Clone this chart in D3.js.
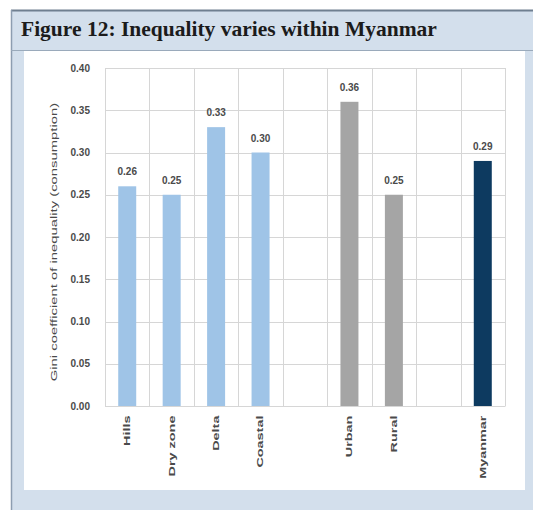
<!DOCTYPE html>
<html><head><meta charset="utf-8">
<script src="https://cdn.jsdelivr.net/npm/d3@7/dist/d3.min.js"></script>
<style>body{margin:0;background:#fff;}svg{display:block;}</style>
</head><body>
<script>
const titleText = "Figure 12: Inequality varies within Myanmar";
const yAxisTitle = "Gini coefficient of inequality (consumption)";
const categories = ["Hills", "Dry zone", "Delta", "Coastal", "", "Urban", "Rural", " ", "Myanmar"];
const values = [0.26, 0.25, 0.33, 0.30, null, 0.36, 0.25, null, 0.29];
const groups = ["region", "region", "region", "region", null, "area", "area", null, "national"];
const yTicks = [0, 0.05, 0.10, 0.15, 0.20, 0.25, 0.30, 0.35, 0.40];
const groupColors = {region: "#9fc4e7", area: "#a5a5a5", national: "#0d3a60"};

const W = 533, H = 510;
const svg = d3.select("body").append("svg").attr("width", W).attr("height", H);

// frame
svg.append("rect").attr("x", 11).attr("y", 10).attr("width", W - 11).attr("height", H - 10).attr("fill", "#d3dfec");
svg.append("line").attr("x1", 11).attr("x2", W).attr("y1", 10.5).attr("y2", 10.5).attr("stroke", "#6f7f90").attr("stroke-width", 2);
svg.append("line").attr("x1", 11.5).attr("x2", 11.5).attr("y1", 10).attr("y2", H).attr("stroke", "#8d9db0").attr("stroke-width", 1.5);
svg.append("line").attr("x1", 11).attr("x2", W).attr("y1", 50.5).attr("y2", 50.5).attr("stroke", "#9aaabb").attr("stroke-width", 1);
svg.append("rect").attr("x", 24).attr("y", 51).attr("width", 501).attr("height", 439).attr("fill", "#ffffff");
svg.append("text").attr("x", 21).attr("y", 36).text(titleText)
  .attr("font-family", "Liberation Serif, Times New Roman, serif").attr("font-weight", "bold")
  .attr("font-size", 21.5).attr("fill", "#1b1b1b");

const x = d3.scaleBand().domain(categories).range([105, 505]).paddingInner(0).paddingOuter(0);
const y = d3.scaleLinear().domain([0, 0.40]).range([406, 68]);

const g = svg.append("g");
g.selectAll(".hg").data(yTicks).join("line")
  .attr("x1", 105).attr("x2", 505)
  .attr("y1", d => Math.round(y(d)) + 0.5).attr("y2", d => Math.round(y(d)) + 0.5)
  .attr("stroke", "#d6d6d6").attr("stroke-width", 1);
const bounds = categories.map(c => x(c)).concat([505]);
g.selectAll(".vg").data(bounds).join("line")
  .attr("x1", d => Math.round(d) + 0.5).attr("x2", d => Math.round(d) + 0.5)
  .attr("y1", 68).attr("y2", 406)
  .attr("stroke", "#d6d6d6").attr("stroke-width", 1);

// y axis
const yAxis = d3.axisLeft(y).tickValues(yTicks).tickFormat(d3.format(".2f")).tickSize(0).tickPadding(15);
const ya = svg.append("g").attr("transform", "translate(105,0)").call(yAxis);
ya.select(".domain").remove();
ya.selectAll("text").attr("font-family", "Liberation Sans, Arial, sans-serif").attr("font-size", 10)
  .attr("font-weight", "bold").attr("fill", "#4a4a4a");

// x axis
const xAxis = d3.axisBottom(x).tickSize(0).tickPadding(0);
const xa = svg.append("g").attr("transform", "translate(0,406)").call(xAxis);
xa.select(".domain").attr("stroke", "#d6d6d6");
xa.selectAll("text").attr("font-family", "Liberation Sans, Arial, sans-serif").attr("font-size", 9)
  .attr("font-weight", "bold").attr("fill", "#4a4a4a")
  .attr("transform", "scale(1,1.6) rotate(-90)").attr("text-anchor", "end").attr("dx", "-6").attr("dy", "0.32em").attr("y", 0);

// bars
const bw = 18;
const data = categories.map((c, i) => ({c, v: values[i], g: groups[i]})).filter(d => d.v !== null);
svg.selectAll(".bar").data(data).join("rect")
  .attr("x", d => x(d.c) + x.bandwidth() / 2 - bw / 2)
  .attr("width", bw)
  .attr("y", d => y(d.v))
  .attr("height", d => y(0) - y(d.v))
  .attr("fill", d => groupColors[d.g]);

svg.selectAll(".lbl").data(data).join("text")
  .attr("x", d => x(d.c) + x.bandwidth() / 2)
  .attr("y", d => y(d.v) - 11)
  .attr("text-anchor", "middle")
  .attr("font-family", "Liberation Sans, Arial, sans-serif").attr("font-size", 10)
  .attr("font-weight", "bold").attr("fill", "#4a4a4a")
  .text(d => d3.format(".2f")(d.v));

// y title
svg.append("text")
  .attr("transform", "translate(57,242) scale(1,1.65) rotate(-90)")
  .attr("text-anchor", "middle")
  .attr("font-family", "Liberation Sans, Arial, sans-serif").attr("font-size", 9)
  .attr("fill", "#4a4a4a")
  .text(yAxisTitle);
</script>
</body></html>
